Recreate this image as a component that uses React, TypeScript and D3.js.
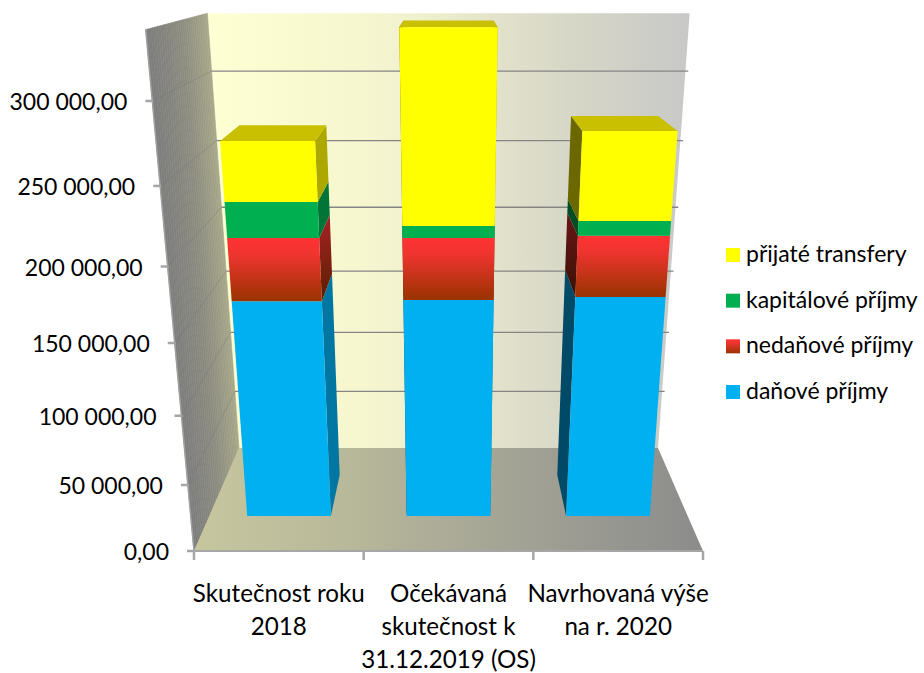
import React from "react";
import * as d3 from "d3";

const categories = ["cat2018", "cat2019", "cat2020"];
const categoryLines = [
  ["Skutečnost roku", "2018"],
  ["Očekávaná", "skutečnost k", "31.12.2019 (OS)"],
  ["Navrhovaná výše", "na r. 2020"],
];
const danove = [162000, 162900, 165000];
const nedanove = [43500, 42600, 42000];
const kapitalove = [23900, 8000, 9900];
const transfery = [39300, 124500, 58100];
const ticks = [0, 50000, 100000, 150000, 200000, 250000, 300000];
const tickLabels = ["0,00", "50 000,00", "100 000,00", "150 000,00", "200 000,00", "250 000,00", "300 000,00"];
const axisMax = 340000;
const legendNames = ["přijaté transfery", "kapitálové příjmy", "nedaňové příjmy", "daňové příjmy"];

const FONT = "Lato, 'Open Sans', sans-serif";

const tScale = d3.scaleLinear().domain([0, 50000]).range([0, 1]);
const band = d3.scaleBand<string>().domain(categories).range([-1, 1]).paddingInner(0.475).paddingOuter(0.2375);

// Perspective camera: X in [-1,1], value, Z in [0,1] (front to back)
function project(X: number, value: number, Z: number): [number, number] {
  const t = tScale(value);
  const w = 1 - 0.02344 * t + 0.2148 * Z;
  const sy = (551 + (-77.37 - 0.6 * Z) * t - 6.8 * Z) / w;
  const sx = 448.5 + (254.5 * X) / w;
  return [sx, sy];
}
const poly = (pts: [number, number][]) => (d3.line()(pts) as string) + "Z";

const wallColor = d3.scaleLinear<string>().domain([0, 0.5, 1]).range(["#7e7e7e", "#8c8c80", "#a8a88a"]).interpolate(d3.interpolateRgb);
const barZ0 = 0.2976;
const barZ1 = 0.6985;

type Side = { front: string; right: string; left: string };
const seriesStyle: Side[] = [
  { front: "#00b0f0", right: "#0076a3", left: "#004a68" },
  { front: "url(#redFront)", right: "url(#redRight)", left: "url(#redLeft)" },
  { front: "#00b050", right: "#007537", left: "#004d24" },
  { front: "#ffff00", right: "#aca800", left: "#6b6800" },
];
const series = [danove, nedanove, kapitalove, transfery];

const gradStops = (stops: [number, string][]) =>
  stops.map(([o, c]) => <stop key={o} offset={o} stopColor={c} />);

export default function App() {
  const depthSteps = d3.range(0, 30);
  return (
    <svg width={924} height={673} style={{ position: "absolute", left: 0, top: 0, background: "#fff" }} fontFamily={FONT}>
      <defs>
        <linearGradient id="backWall" gradientUnits="userSpaceOnUse" x1={208} x2={688} y1={0} y2={0}>
          {gradStops([[0, "#ffffd4"], [0.3, "#f7f7cf"], [0.45, "#f0f0ce"], [0.65, "#dedeca"], [0.8, "#d4d4c6"], [1, "#c8c8c8"]])}
        </linearGradient>
        <linearGradient id="floor" gradientUnits="userSpaceOnUse" x1={195} x2={703} y1={0} y2={0}>
          {gradStops([[0, "#c6c69e"], [0.25, "#bbbb9b"], [0.5, "#abab97"], [0.75, "#9b9b92"], [1, "#8c8c8c"]])}
        </linearGradient>
        <linearGradient id="redFront" x1={0} x2={0} y1={0} y2={1}>
          {gradStops([[0, "#ff3333"], [0.25, "#f03430"], [1, "#993300"]])}
        </linearGradient>
        <linearGradient id="redRight" x1={0} x2={0} y1={0} y2={1}>
          {gradStops([[0, "#a82226"], [1, "#5a1e00"]])}
        </linearGradient>
        <linearGradient id="redLeft" x1={0} x2={0} y1={0} y2={1}>
          {gradStops([[0, "#6a1416"], [1, "#3a1205"]])}
        </linearGradient>
      </defs>

      {/* back wall */}
      <path d={poly([project(-1, 0, 1), project(-1, axisMax, 1), project(1, axisMax, 1), project(1, 0, 1)])} fill="url(#backWall)" />
      {/* left wall */}
      {depthSteps.map((i) => {
        const z0 = i / depthSteps.length;
        const z1 = (i + 1) / depthSteps.length;
        const c = wallColor((z0 + z1) / 2);
        return (
          <path key={i} d={poly([project(-1, 0, z0), project(-1, axisMax, z0), project(-1, axisMax, z1), project(-1, 0, z1)])}
            fill={c} stroke={c} strokeWidth={0.6} />
        );
      })}
      <path d={d3.line()([project(-1, 0, 0), project(-1, axisMax, 0)]) as string} stroke="#a0a0a0" strokeWidth={1.5} fill="none" />
      {/* floor */}
      <path d={poly([project(-1, 0, 0), project(-1, 0, 1), project(1, 0, 1), project(1, 0, 0)])} fill="url(#floor)" />

      {/* gridlines */}
      {ticks.slice(1).map((v) => (
        <g key={v} fill="none">
          <path d={d3.line()([project(-1, v, 1), project(1.012, v, 1)]) as string} stroke="#858585" strokeWidth={1.3} />
          <path d={d3.line()([project(-1, v, 0), project(-1, v, 1)]) as string} stroke="#6e6e78" strokeOpacity={0.4} strokeWidth={0.9} />
        </g>
      ))}

      {/* bars */}
      {categories.map((cat, ci) => {
        const x0 = band(cat)!;
        const x1 = x0 + band.bandwidth();
        const stack = d3.cumsum(series.map((s) => s[ci]));
        return (
          <g key={cat}>
            {series.map((s, si) => {
              const lo = si === 0 ? 0 : stack[si - 1];
              const hi = stack[si];
              const st = seriesStyle[si];
              const sides = [] as React.ReactNode[];
              const sideFace = (x: number, fill: string, k: string) => (
                <path key={k} fill={fill} d={poly([project(x, lo, barZ0), project(x, hi, barZ0), project(x, hi, barZ1), project(x, lo, barZ1)])} />
              );
              if (ci === 0 || ci === 1) sides.push(sideFace(x1, st.right, "r"));
              if (ci === 2 || ci === 1) sides.push(sideFace(x0, st.left, "l"));
              return <g key={si}>{sides}</g>;
            })}
            <path fill="#c8c000" d={poly([project(x0, stack[3], barZ0), project(x0, stack[3], barZ1), project(x1, stack[3], barZ1), project(x1, stack[3], barZ0)])} />
            {series.map((s, si) => {
              const lo = si === 0 ? 0 : stack[si - 1];
              const hi = stack[si];
              return (
                <path key={si} fill={seriesStyle[si].front}
                  d={poly([project(x0, lo, barZ0), project(x0, hi, barZ0), project(x1, hi, barZ0), project(x1, lo, barZ0)])} />
              );
            })}
          </g>
        );
      })}

      {/* value axis */}
      {ticks.map((v, i) => {
        const [x, y] = project(-1, v, 0);
        return (
          <g key={v}>
            <line x1={x - 7} x2={x + 1} y1={y} y2={y} stroke="#a6a6a6" strokeWidth={2.5} />
            <text x={x - 25} y={y + 9} textAnchor="end" fontSize={23} fill="#000">{tickLabels[i]}</text>
          </g>
        );
      })}

      {/* category axis */}
      <path d={d3.line()([project(-1, 0, 0), project(1, 0, 0)]) as string} stroke="#a6a6a6" strokeWidth={2} fill="none" />
      {d3.range(0, 4).map((i) => {
        const [x, y] = project(-1 + (2 * i) / 3, 0, 0);
        return <line key={i} x1={x} x2={x} y1={y} y2={y + 9} stroke="#a6a6a6" strokeWidth={2.5} />;
      })}
      {categoryLines.map((lines, i) => {
        const [cx] = project(band(categories[i])! + band.bandwidth() / 2, 0, 0);
        return lines.map((ln, j) => (
          <text key={ln} x={cx} y={602 + j * 33} textAnchor="middle" fontSize={24.2} fill="#000">{ln}</text>
        ));
      })}

      {/* legend */}
      {legendNames.map((name, i) => {
        const y = d3.scaleLinear().domain([0, 3]).range([248, 385])(i);
        const fill = seriesStyle[3 - i].front;
        return (
          <g key={name}>
            <rect x={726} y={y} width={14} height={14} fill={fill} />
            <text x={746} y={y + 14} fontSize={23} fill="#000">{name}</text>
          </g>
        );
      })}
    </svg>
  );
}
